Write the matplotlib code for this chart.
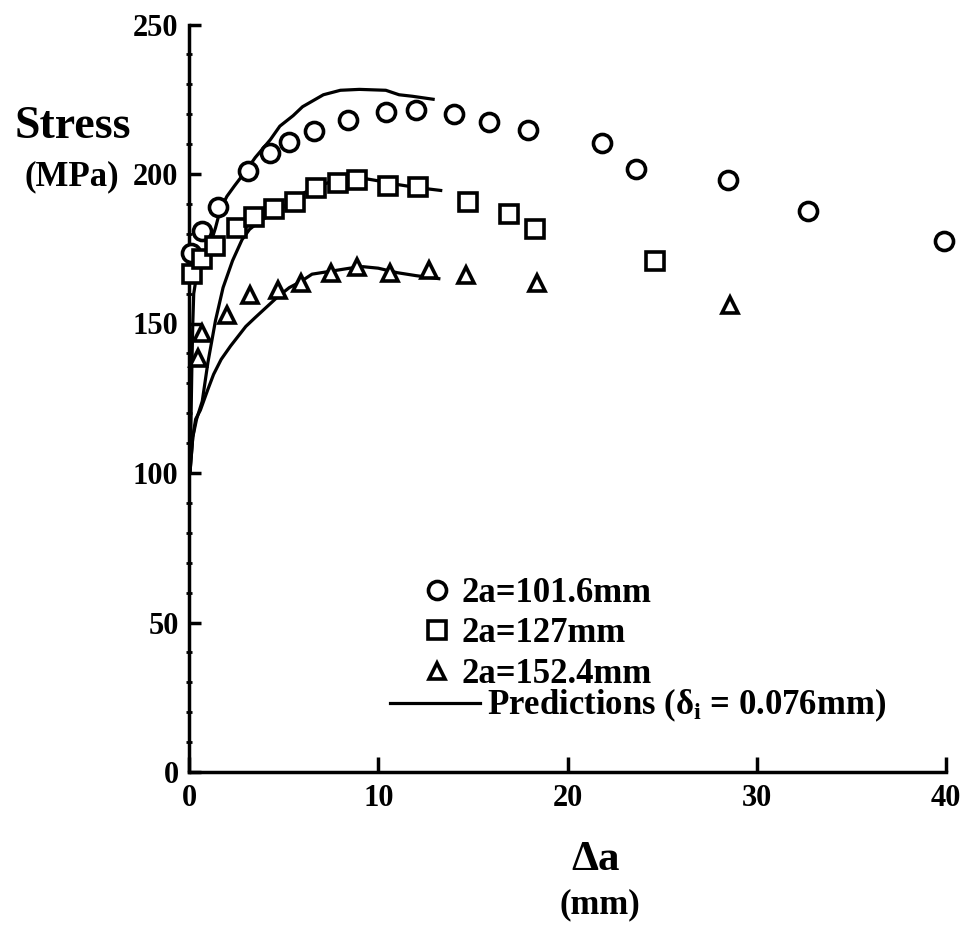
import numpy as np
import matplotlib
matplotlib.use("Agg")
import matplotlib.pyplot as plt
from matplotlib.ticker import MultipleLocator

plt.rcParams['font.family'] = ['Liberation Serif', 'DejaVu Serif']
plt.rcParams['font.weight'] = 'bold'
plt.rcParams['mathtext.fontset'] = 'custom'
plt.rcParams['mathtext.rm'] = 'Liberation Serif:bold'
plt.rcParams['mathtext.it'] = 'Liberation Serif:bold'

# measured points (delta a in mm, stress in MPa)
circle_x = [0.1, 0.7, 1.55, 3.1, 4.3, 5.3, 6.6, 8.4, 10.4, 12.0, 14.0, 15.85,
            17.9, 21.8, 23.6, 28.5, 32.7, 39.9]
circle_y = [173.5, 181.0, 189.0, 201.0, 207.0, 210.8, 214.5, 218.0, 220.6, 221.4,
            220.0, 217.5, 214.7, 210.3, 201.6, 198.0, 187.6, 177.6]

square_x = [0.15, 0.67, 1.4, 2.55, 3.45, 4.5, 5.6, 6.7, 7.85, 8.9, 10.5, 12.1,
            14.75, 16.9, 18.3, 24.6]
square_y = [166.6, 171.6, 176.0, 182.0, 185.7, 188.2, 190.7, 195.2, 196.9, 198.0,
            196.0, 195.5, 190.7, 186.6, 181.5, 171.0]

tri_x = [0.45, 0.7, 2.0, 3.2, 4.7, 5.9, 7.5, 8.9, 10.6, 12.7, 14.65, 18.4, 28.6]
tri_y = [138.4, 146.7, 152.8, 159.5, 161.2, 163.4, 166.8, 169.0, 166.8, 167.9,
         166.2, 163.4, 156.2]

# predictions
pred1_x = [0.05, 0.1, 0.15, 0.2, 0.25, 0.4, 0.7, 0.95, 1.2, 1.4, 1.65, 2.0, 2.4,
           3.0, 3.5, 4.3, 4.8, 5.5, 6.0, 7.1, 8.0, 9.0, 10.4, 11.1, 11.8, 12.9]
pred1_y = [100, 115, 135, 150, 160, 166, 170, 173, 178, 182, 188, 192.5, 196,
           201, 205.5, 211.5, 216, 219.5, 222.5, 226.5, 228, 228.3, 228, 226.5,
           226, 225]

pred2_x = [0.05, 0.2, 0.4, 0.7, 1.0, 1.4, 1.8, 2.3, 2.8, 3.2, 3.8, 4.8, 5.6,
           6.6, 7.8, 8.8, 10.2, 11.0, 12.0, 13.3]
pred2_y = [100, 112, 118, 124, 137, 151, 162, 171, 178, 181.5, 184.5, 188, 192,
           195.5, 198, 199, 197.5, 196.5, 195.5, 194.5]

pred3_x = [0.05, 0.2, 0.35, 0.6, 1.0, 1.3, 1.7, 2.2, 3.0, 3.5, 4.1, 4.7, 5.3,
           5.9, 6.5, 7.5, 8.5, 9.2, 10.0, 11.0, 12.0, 13.2]
pred3_y = [100, 112, 118, 121, 128, 133, 138, 142.5, 149, 152, 155.5, 159, 162,
           164, 166.5, 167.5, 168.5, 169, 168.5, 167, 166, 165]

fig = plt.figure(figsize=(9.68, 9.26), dpi=100)
ax = fig.add_axes([189 / 968, 154 / 926, 757 / 968, 747.5 / 926])

lw = 2.3
ax.plot(pred1_x, pred1_y, color='black', lw=lw, zorder=2)
ax.plot(pred2_x, pred2_y, color='black', lw=lw, zorder=2)
line, = ax.plot(pred3_x, pred3_y, color='black', lw=lw, zorder=2)

mk = dict(linestyle='none', markerfacecolor='white', markeredgecolor='black',
          markeredgewidth=2.6, zorder=3, clip_on=False)
c, = ax.plot(circle_x, circle_y, marker='o', markersize=13, **mk)
s, = ax.plot(square_x, square_y, marker='s', markersize=12.5, **mk)
t, = ax.plot(tri_x, tri_y, marker='^', markersize=12, **mk)

ax.set_xlim(0, 40)
ax.set_ylim(0, 250)
ax.set_xticks([0, 10, 20, 30, 40])
ax.set_yticks([0, 50, 100, 150, 200, 250])
ax.yaxis.set_minor_locator(MultipleLocator(10))
for side in ['top', 'right']:
    ax.spines[side].set_visible(False)
for side in ['left', 'bottom']:
    ax.spines[side].set_linewidth(2.5)
ax.tick_params(axis='x', which='major', direction='in', length=11, width=2.5,
               labelsize=22, pad=9)
ax.tick_params(axis='y', which='major', direction='in', length=8.5, width=2.5,
               labelsize=22, pad=7.5)
ax.tick_params(axis='y', which='minor', direction='inout', length=5, width=2)

leg1 = ax.legend([c, s, t], ['2a=101.6mm', '2a=127mm', '2a=152.4mm'],
                 loc='upper left', bbox_to_anchor=(0.309, 0.2606), frameon=False,
                 fontsize=25, numpoints=1, handlelength=0.8, handletextpad=0.32,
                 labelspacing=0.21, borderpad=0, borderaxespad=0)
ax.add_artist(leg1)
ax.legend([line], [r'Predictions ($\delta_{\rm i}$ = 0.076mm)'],
          loc='upper left', bbox_to_anchor=(0.2655, 0.1137), frameon=False,
          fontsize=25, handlelength=2.6, handletextpad=0.2,
          borderpad=0, borderaxespad=0)

fig.text(73 / 968, 1 - 127 / 926, 'Stress', ha='center', va='center',
         fontsize=33, fontweight='bold')
fig.text(72 / 968, 1 - 177 / 926, '(MPa)', ha='center', va='center',
         fontsize=25, fontweight='bold')
fig.text(596 / 968, 1 - 860 / 926, 'Δa', ha='center', va='center',
         fontsize=31, fontweight='bold')
fig.text(600 / 968, 1 - 905 / 926, '(mm)', ha='center', va='center',
         fontsize=25, fontweight='bold')

fig.savefig('out.png', dpi=100)
